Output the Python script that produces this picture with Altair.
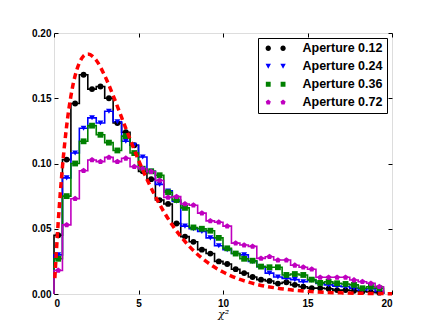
import altair as alt
import pandas as pd

# ---------------- data ----------------
series_names = ["Aperture 0.12", "Aperture 0.24", "Aperture 0.36", "Aperture 0.72"]
series_colors = ["#000000", "#0000ff", "#008000", "#bf00bf"]

bin_left = [0.0, 0.5, 1.0, 1.5, 2.0, 2.5, 3.0, 3.5, 4.0, 4.5, 5.0, 5.5, 6.0, 6.5,
            7.0, 7.5, 8.0, 8.5, 9.0, 9.5, 10.0, 10.5, 11.0, 11.5, 12.0, 12.5, 13.0,
            13.5, 14.0, 14.5, 15.0, 15.5, 16.0, 16.5, 17.0, 17.5, 18.0, 18.5, 19.0]
bin_right_end = 19.5
bin_center = [0.25, 0.75, 1.25, 1.75, 2.25, 2.75, 3.25, 3.75, 4.25, 4.75, 5.25, 5.75,
              6.25, 6.75, 7.25, 7.75, 8.25, 8.75, 9.25, 9.75, 10.25, 10.75, 11.25,
              11.75, 12.25, 12.75, 13.25, 13.75, 14.25, 14.75, 15.25, 15.75, 16.25,
              16.75, 17.25, 17.75, 18.25, 18.75, 19.25]

ap012 = [0.045, 0.103, 0.146, 0.168, 0.157, 0.159, 0.150, 0.131, 0.124, 0.114,
         0.094, 0.088, 0.072, 0.069, 0.054, 0.044, 0.040, 0.034, 0.031, 0.025,
         0.023, 0.019, 0.016, 0.013, 0.011, 0.010, 0.008, 0.009, 0.007, 0.0056,
         0.0045, 0.0045, 0.004, 0.003, 0.003, 0.0025, 0.002, 0.0015, 0.001]
ap024 = [0.030, 0.089, 0.108, 0.127, 0.135, 0.131, 0.140, 0.132, 0.117, 0.114,
         0.105, 0.094, 0.084, 0.079, 0.071, 0.052, 0.050, 0.048, 0.043, 0.037,
         0.034, 0.031, 0.030, 0.025, 0.021, 0.016, 0.013, 0.012, 0.011, 0.0094,
         0.0105, 0.008, 0.007, 0.006, 0.0055, 0.0045, 0.003, 0.004, 0.002]
ap036 = [0.027, 0.075, 0.100, 0.117, 0.129, 0.122, 0.116, 0.110, 0.121, 0.108,
         0.096, 0.094, 0.091, 0.078, 0.072, 0.066, 0.051, 0.050, 0.0485, 0.043,
         0.035, 0.031, 0.027, 0.0255, 0.021, 0.0205, 0.0205, 0.0146, 0.0153, 0.0146,
         0.011, 0.0085, 0.0094, 0.0082, 0.0077, 0.007, 0.0044, 0.0056, 0.0044]
ap072 = [0.018, 0.053, 0.073, 0.0945, 0.1027, 0.1014, 0.1047, 0.1014, 0.104, 0.0975,
         0.096, 0.0937, 0.087, 0.074, 0.0746, 0.069, 0.068, 0.062, 0.056, 0.055,
         0.052, 0.039, 0.0375, 0.0365, 0.0273, 0.0286, 0.026, 0.026, 0.022, 0.0205,
         0.019, 0.0128, 0.0128, 0.0128, 0.0128, 0.0107, 0.0094, 0.0082, 0.0056]

# red dashed reference curve
chi_x = [0.05, 0.25, 0.5, 0.75, 1.0, 1.25, 1.5, 1.75, 2.0, 2.5, 3.0, 3.5, 4.0, 4.5,
         5.0, 5.5, 6.0, 6.5, 7.0, 7.5, 8.0, 9.0, 10.0, 11.0, 12.0, 13.0, 14.0, 15.0,
         16.0, 17.0, 18.0, 19.0, 20.0]
chi_y = [0.0122, 0.0552, 0.0974, 0.1289, 0.1516, 0.1673, 0.1771, 0.1824, 0.1839,
         0.1791, 0.1673, 0.1521, 0.1353, 0.1186, 0.1026, 0.0879, 0.0747, 0.0630,
         0.0528, 0.0441, 0.0366, 0.0250, 0.0168, 0.0112, 0.0074, 0.0049, 0.0032,
         0.0021, 0.0013, 0.00087, 0.00056, 0.00036, 0.00023]

x_ticks = [0, 5, 10, 15, 20]
y_ticks = [0.0, 0.05, 0.10, 0.15, 0.20]
x_title = "χ²"

# ---------------- tables ----------------
all_series = [ap012, ap024, ap036, ap072]
step_rows, point_rows = [], []
for s, (name, vals) in enumerate(zip(series_names, all_series)):
    k = 0
    step_rows.append({"series": name, "x": bin_left[0], "y": 0.0, "k": k}); k += 1
    for xl, v in zip(bin_left, vals):
        step_rows.append({"series": name, "x": xl, "y": v, "k": k}); k += 1
    step_rows.append({"series": name, "x": bin_right_end, "y": 0.0, "k": k})
    for xc, v in zip(bin_center, vals):
        point_rows.append({"series": name, "x": xc, "y": v, "s": s})
steps_df = pd.DataFrame(step_rows)
points_df = pd.DataFrame(point_rows)
chi_df = pd.DataFrame({"x": chi_x, "y": chi_y})

W, H = 338, 261

x_scale = alt.Scale(domain=[0, 20], nice=False, zero=False)
y_scale = alt.Scale(domain=[0, 0.2], nice=False)
color_scale = alt.Scale(domain=series_names, range=series_colors)

pent = "M0,-1L0.951,-0.309L0.588,0.809L-0.588,0.809L-0.951,-0.309Z"
shape_scale = alt.Scale(domain=series_names,
                        range=["circle", "triangle-down", "square", pent])

# two-marker legend glyphs (matplotlib legend shows two markers)
leg_circle = ("M-1,0A1,1 0 1,1 1,0A1,1 0 1,1 -1,0Z "
              "M4.5,0A1,1 0 1,1 6.5,0A1,1 0 1,1 4.5,0Z")
leg_tri = "M-1,-0.9L1,-0.9L0,0.9Z M4.5,-0.9L6.5,-0.9L5.5,0.9Z"
leg_sq = "M-0.9,-0.9H0.9V0.9H-0.9Z M4.6,-0.9H6.4V0.9H4.6Z"
leg_pent = ("M0,-1L0.951,-0.309L0.588,0.809L-0.588,0.809L-0.951,-0.309Z "
            "M5.5,-1L6.451,-0.309L6.088,0.809L4.912,0.809L4.549,-0.309Z")
legend_shape_scale = alt.Scale(domain=series_names,
                               range=[leg_circle, leg_tri, leg_sq, leg_pent])

label_font = "Liberation Sans"


def tick_axis(orient, offset, values):
    return alt.Axis(orient=orient, offset=offset, values=values, labels=False,
                    domain=False, ticks=True, tickSize=4, tickColor="black",
                    tickWidth=1, grid=False, title=None)


# layer A: steps, with the labelled axes
steps = alt.Chart(steps_df).mark_line(interpolate="step-after", strokeWidth=1.6).encode(
    x=alt.X("x:Q", scale=x_scale,
            axis=alt.Axis(orient="bottom", values=x_ticks, format="d", ticks=False,
                          domain=False, grid=False, labelPadding=4,
                          labelFont=label_font, labelFontWeight="bold",
                          labelFontSize=10, labelColor="black",
                          title=x_title, titleFont="DejaVu Serif",
                          titleFontStyle="italic", titleFontWeight="normal",
                          titleFontSize=11, titlePadding=0, titleColor="black")),
    y=alt.Y("y:Q", scale=y_scale,
            axis=alt.Axis(orient="left", values=y_ticks, format=".2f", ticks=False,
                          domain=False, grid=False, labelPadding=3,
                          labelFont=label_font, labelFontWeight="bold",
                          labelFontSize=10, labelColor="black", title=None)),
    color=alt.Color("series:N", scale=color_scale, legend=None),
    order=alt.Order("k:Q"),
)

# layer B: markers (inward ticks bottom/left)
points = alt.Chart(points_df).mark_point(filled=True, opacity=1, size=34,
                                         strokeWidth=0.6).encode(
    x=alt.X("x:Q", scale=x_scale, axis=tick_axis("top", -H, x_ticks)),
    y=alt.Y("y:Q", scale=y_scale, axis=tick_axis("right", -W, y_ticks)),
    color=alt.Color("series:N", scale=color_scale, legend=None),
    shape=alt.Shape("series:N", scale=shape_scale, legend=None),
    order=alt.Order("s:Q"),
)

# layer C: red dashed curve (inward ticks top/right)
chi = alt.Chart(chi_df).mark_line(color="#ff0000", strokeWidth=3.5,
                                  strokeDash=[6, 4], interpolate="monotone").encode(
    x=alt.X("x:Q", scale=x_scale, axis=tick_axis("bottom", -H, x_ticks)),
    y=alt.Y("y:Q", scale=y_scale, axis=tick_axis("left", -W, y_ticks)),
)

# layer D: legend carrier (draws no marks; the legend comes from the scale domain)
legend_common = dict(title=None, orient="top-right", offset=5,
                     symbolOpacity=1, symbolSize=29, symbolStrokeWidth=0.5,
                     labelFont=label_font, labelFontWeight="bold",
                     labelFontSize=12.5, labelColor="black",
                     labelOffset=28, rowPadding=5, padding=4,
                     strokeColor="black", fillColor="white", cornerRadius=0)
legend_layer = alt.Chart(points_df).transform_filter("datum.y < 0").mark_point(
    filled=True).encode(
    x=alt.X("x:Q", scale=x_scale, axis=None),
    y=alt.Y("y:Q", scale=y_scale, axis=None),
    color=alt.Color("series:N", scale=color_scale, legend=alt.Legend(**legend_common)),
    shape=alt.Shape("series:N", scale=legend_shape_scale,
                    legend=alt.Legend(**legend_common)),
)

chart = alt.layer(steps, points, chi, legend_layer).resolve_scale(
    color="independent", shape="independent"
).resolve_axis(x="independent", y="independent").properties(
    width=W, height=H,
    autosize=alt.AutoSizeParams(type="none"),
    padding={"left": 46, "top": 25, "right": 20, "bottom": 35},
).configure_view(stroke="black", strokeWidth=1.2).configure(background="white")

chart.save("out.html", embed_options={"renderer": "svg", "actions": False})
